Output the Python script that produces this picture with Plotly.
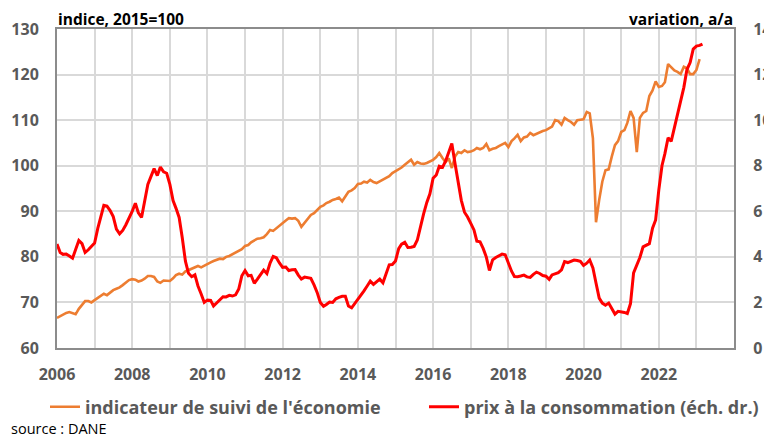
import pandas as pd
import plotly.graph_objects as go

# indicateur de suivi de l'économie (2015=100), mensuel, janv. 2006 - févr. 2023
ise = [
    66.6, 67.0, 67.4, 67.7, 67.9, 67.7, 67.4, 68.6, 69.6, 70.3, 70.3, 70.0,
    70.5, 71.0, 71.6, 71.9, 71.6, 72.2, 72.7, 73.0, 73.3, 73.8, 74.3, 74.9,
    75.1, 75.0, 74.6, 74.8, 75.2, 75.8, 75.8, 75.6, 74.6, 74.3, 74.8, 74.7,
    74.7, 75.3, 76.0, 76.3, 76.1, 76.8, 77.1, 77.3, 77.7, 78.0, 77.7, 78.1,
    78.4, 78.8, 79.1, 79.4, 79.6, 79.5, 80.0, 80.2, 80.6, 80.8, 81.3, 81.7,
    82.4, 82.6, 83.2, 83.7, 84.0, 84.1, 84.3, 85.0, 85.9, 85.7, 86.3, 86.9,
    87.6, 88.0, 88.5, 88.4, 88.5, 87.9, 86.6, 87.5, 88.3, 89.2, 89.6, 90.3,
    91.0, 91.3, 91.8, 92.1, 92.5, 92.7, 93.0, 92.2, 93.4, 94.3, 94.6, 95.1,
    96.0, 96.1, 96.5, 96.3, 96.9, 96.4, 96.2, 96.6, 96.9, 97.3, 97.7, 98.4,
    98.8, 99.1, 99.6, 100.2, 100.8, 101.3, 100.2, 100.8, 100.5, 100.4, 100.6, 100.9,
    101.3, 101.9, 102.8, 101.7, 100.8, 101.6, 99.5, 102.0, 103.0, 102.8, 103.4, 103.0,
    103.1, 103.4, 103.9, 103.6, 103.9, 104.8, 103.4, 103.7, 103.9, 104.3, 104.6, 105.0,
    104.1, 105.4, 106.0, 106.8, 105.4, 106.2, 106.4, 107.2, 106.7, 107.0, 107.4, 107.6,
    107.8, 108.3, 108.6, 110.0, 109.8, 109.0, 110.5, 110.0, 109.6, 109.0, 110.0, 110.1,
    110.2, 111.8, 111.5, 106.0, 87.6, 92.5, 96.5, 99.0, 99.2, 102.0, 104.5, 105.4,
    107.4, 107.8, 109.4, 112.0, 110.5, 103.0, 110.5, 111.6, 112.0, 115.3, 116.5, 118.5,
    117.3, 117.5, 118.3, 122.3, 121.5, 120.9, 120.6, 120.1, 121.7, 121.4, 120.1, 120.1,
    121.0, 123.4,
]

# prix à la consommation, variation a/a (%), mensuel, janv. 2006 - mars 2023
ipc = [
    4.56, 4.19, 4.11, 4.12, 4.04, 3.94, 4.32, 4.72, 4.58, 4.19, 4.31, 4.48,
    4.61, 5.25, 5.78, 6.26, 6.23, 6.03, 5.77, 5.22, 5.01, 5.16, 5.41, 5.69,
    6.00, 6.35, 5.93, 5.73, 6.39, 7.18, 7.52, 7.87, 7.57, 7.94, 7.73, 7.67,
    7.18, 6.47, 6.14, 5.73, 4.85, 3.81, 3.28, 3.13, 3.21, 2.72, 2.37, 2.00,
    2.10, 2.09, 1.84, 1.98, 2.07, 2.25, 2.24, 2.31, 2.28, 2.33, 2.59, 3.17,
    3.40, 3.17, 3.19, 2.84, 3.02, 3.23, 3.42, 3.27, 3.73, 4.02, 3.96, 3.73,
    3.54, 3.55, 3.40, 3.43, 3.44, 3.20, 3.03, 3.11, 3.08, 3.06, 2.77, 2.44,
    2.00, 1.83, 1.91, 2.02, 2.00, 2.16, 2.22, 2.27, 2.27, 1.84, 1.76, 1.94,
    2.13, 2.32, 2.51, 2.72, 2.93, 2.79, 2.89, 3.02, 2.86, 3.29, 3.65, 3.66,
    3.82, 4.36, 4.56, 4.64, 4.41, 4.42, 4.46, 4.74, 5.35, 5.89, 6.39, 6.77,
    7.45, 7.59, 7.98, 7.93, 8.20, 8.60, 8.97, 8.10, 7.27, 6.48, 5.96, 5.75,
    5.47, 5.18, 4.69, 4.66, 4.37, 3.99, 3.40, 3.87, 3.97, 4.05, 4.12, 4.09,
    3.68, 3.37, 3.14, 3.13, 3.16, 3.20, 3.12, 3.10, 3.23, 3.33, 3.27, 3.18,
    3.15, 3.01, 3.21, 3.25, 3.31, 3.43, 3.79, 3.75, 3.82, 3.86, 3.84, 3.80,
    3.62, 3.72, 3.86, 3.51, 2.85, 2.19, 1.97, 1.88, 1.97, 1.75, 1.49, 1.61,
    1.60, 1.56, 1.51, 1.95, 3.30, 3.63, 3.97, 4.44, 4.51, 4.58, 5.26, 5.62,
    6.94, 8.01, 8.53, 9.23, 9.07, 9.67, 10.21, 10.84, 11.44, 12.22, 12.53, 13.12,
    13.25, 13.28, 13.34,
]

year_labels = [str(y) for y in range(2006, 2024, 2)]
grid_years = [str(y) for y in range(2006, 2025)]
left_ticks = [60, 70, 80, 90, 100, 110, 120, 130]
right_ticks = [0, 2, 4, 6, 8, 10, 12, 14]

months_ise = pd.date_range("2006-01-01", periods=len(ise), freq="MS")
months_ipc = pd.date_range("2006-01-01", periods=len(ipc), freq="MS")

# the page body keeps its default 8px margin, so the figure is 8px smaller
W, H = 764, 431
FONT = "Open Sans"
TICK_COLOR = "#595959"
GRID = "#d9d9d9"
FRAME = "#8c8c8c"
TICKFONT = dict(family=FONT, size=16, color=TICK_COLOR)
LEGENDFONT = dict(family=FONT, size=18, color=TICK_COLOR)

fig = go.Figure()

fig.add_trace(
    go.Scatter(
        x=months_ise,
        y=ise,
        mode="lines",
        name="<b>indicateur de suivi de l'économie</b>",
        line=dict(color="#ED7D31", width=2.6),
        legend="legend",
    )
)

fig.add_trace(
    go.Scatter(
        x=months_ipc,
        y=ipc,
        mode="lines",
        name="<b>prix à la consommation (éch. dr.)</b>",
        line=dict(color="#FF0000", width=3),
        yaxis="y2",
        legend="legend2",
    )
)

fig.update_layout(
    width=W,
    height=H,
    margin=dict(l=49, r=38, t=21, b=91, autoexpand=False),
    paper_bgcolor="#FFFFFF",
    plot_bgcolor="#FFFFFF",
    font=dict(family=FONT, color="#404040"),
    showlegend=True,
    legend=dict(
        orientation="h",
        xref="container", yref="container",
        x=37 / W, y=1 - 399 / H,
        xanchor="left", yanchor="middle",
        font=LEGENDFONT,
        bgcolor="rgba(0,0,0,0)",
    ),
    legend2=dict(
        orientation="h",
        xref="container", yref="container",
        x=416 / W, y=1 - 399 / H,
        xanchor="left", yanchor="middle",
        font=LEGENDFONT,
        bgcolor="rgba(0,0,0,0)",
    ),
    xaxis=dict(
        type="date",
        range=["2006-01-01", "2024-01-01"],
        tickmode="array",
        tickvals=[y + "-01-01" for y in year_labels],
        ticktext=["<b>" + y + "</b>" for y in year_labels],
        showgrid=True,
        gridcolor=GRID,
        gridwidth=1.5,
        minor=dict(
            tickmode="array",
            tickvals=[y + "-01-01" for y in grid_years],
            showgrid=True,
            gridcolor=GRID,
            gridwidth=1.5,
            ticks="",
        ),
        showline=True,
        linecolor=FRAME,
        linewidth=2,
        mirror=True,
        ticks="outside",
        ticklen=11,
        tickcolor="rgba(0,0,0,0)",
        tickfont=TICKFONT,
    ),
    yaxis=dict(
        range=[60, 130],
        tickmode="array",
        tickvals=left_ticks,
        ticktext=["<b>%d</b>" % v for v in left_ticks],
        showgrid=True,
        gridcolor=GRID,
        gridwidth=1.5,
        zeroline=False,
        showline=True,
        linecolor=FRAME,
        linewidth=2,
        mirror=True,
        ticks="outside",
        ticklen=13,
        tickcolor="rgba(0,0,0,0)",
        tickfont=TICKFONT,
    ),
    yaxis2=dict(
        overlaying="y",
        side="right",
        range=[0, 14],
        tickmode="array",
        tickvals=right_ticks,
        ticktext=["<b>%d</b>" % v for v in right_ticks],
        showgrid=False,
        zeroline=False,
        ticks="outside",
        ticklen=15,
        tickcolor="rgba(0,0,0,0)",
        tickfont=TICKFONT,
    ),
)

fig.add_annotation(
    text="<b>indice, 2015=100</b>",
    xref="paper", yref="paper",
    x=0, y=1,
    xanchor="left", yanchor="bottom",
    yshift=-2,
    borderpad=0,
    showarrow=False,
    font=dict(family=FONT, size=15.5, color="#000000"),
)
fig.add_annotation(
    text="<b>variation, a/a</b>",
    xref="paper", yref="paper",
    x=1, y=1,
    xanchor="right", yanchor="bottom",
    yshift=-2,
    borderpad=0,
    showarrow=False,
    font=dict(family=FONT, size=15.5, color="#000000"),
)
fig.add_annotation(
    text="source : DANE",
    xref="paper", yref="paper",
    x=-47 / 677, y=(340 - 421) / 319,
    xanchor="left", yanchor="middle",
    borderpad=0,
    showarrow=False,
    font=dict(family=FONT, size=14.5, color="#000000"),
)

fig.write_html("out.html")
